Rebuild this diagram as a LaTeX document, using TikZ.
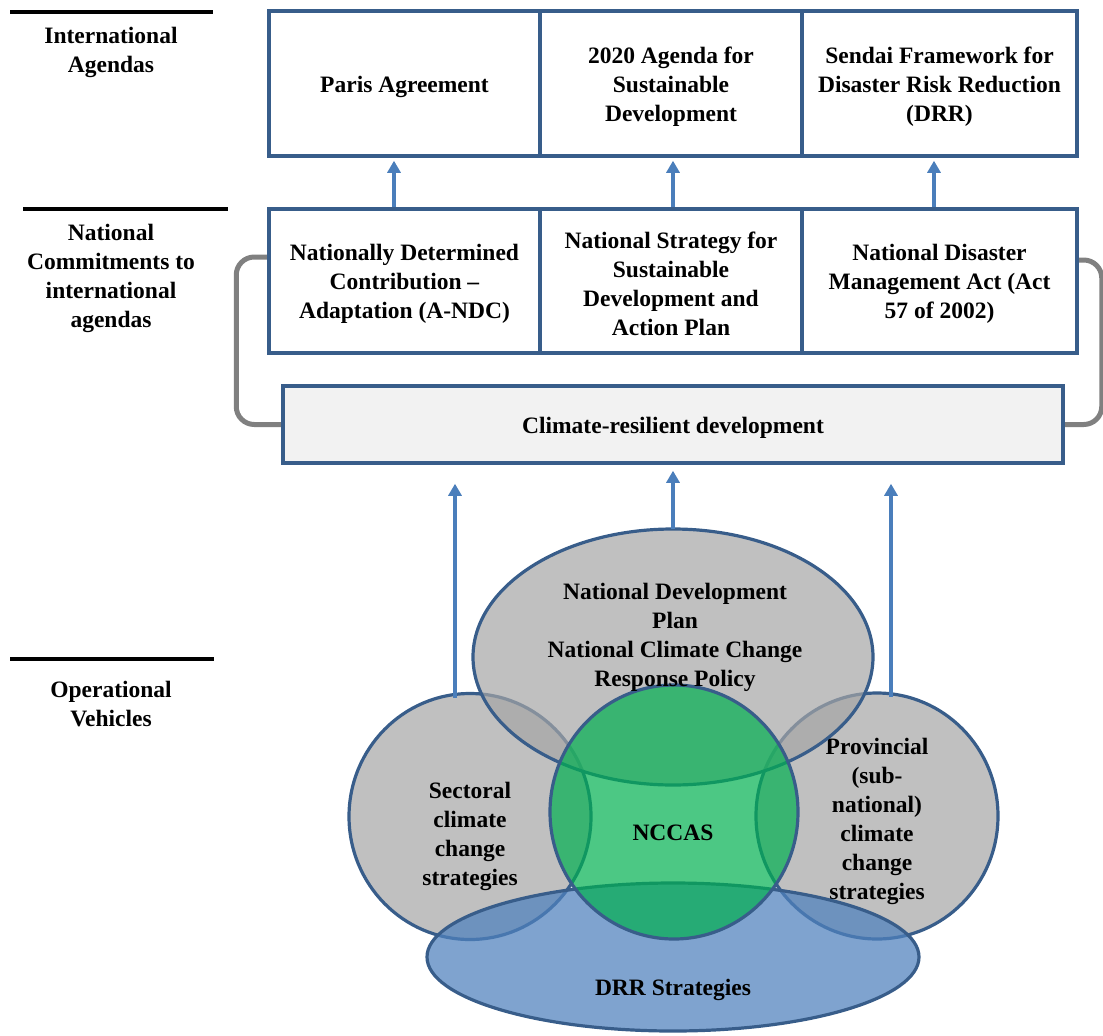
\documentclass[tikz,border=0pt]{standalone}
\usepackage{fontspec}
\setmainfont{Liberation Serif}
\usetikzlibrary{arrows.meta,shapes.geometric,backgrounds}
\definecolor{boxline}{HTML}{385D8A}
\definecolor{arrowblue}{HTML}{4A7EBB}
\definecolor{bracketgray}{HTML}{808080}
\definecolor{lightfill}{HTML}{F2F2F2}
\definecolor{vgray}{HTML}{A5A5A5}
\definecolor{vgreen}{HTML}{00B050}
\definecolor{vblue}{HTML}{4F81BD}

\begin{document}
\begin{tikzpicture}[x=1pt,y=-1pt,
  txt/.style={font=\fontsize{23.5}{29}\selectfont\bfseries, align=center, inner sep=0pt, yshift=-3pt},
  cell/.style={rectangle, draw=boxline, line width=3.5pt, inner sep=0pt, minimum height=145pt},
  up/.style={draw=arrowblue, line width=4pt, -{Triangle[width=13pt,length=12pt]}},
  rule/.style={line width=4pt},
  bracket/.style={draw=bracketgray, line width=5pt, rounded corners=18pt},
  venn/.style={ellipse, draw=boxline, line width=3.2pt, inner sep=0pt, outer sep=0pt},
  grayset/.style={venn, fill=vgray, fill opacity=0.7},
]
\useasboundingbox (0,0) rectangle (1103,1036);

% level rules and level labels
\draw[rule] (10,12) -- (213,12);
\draw[rule] (23,209) -- (228,209);
\draw[rule] (10,659) -- (214,659);
\node[txt] (lab1) at (111,49.5) {International\\Agendas};
\node[txt] (lab2) at (111,275.5) {National\\Commitments to\\international\\agendas};
\node[txt] (lab3) at (111,701.5) {Operational\\Vehicles};

% international agendas
\node[cell, minimum width=271pt] (ia) at (404.5,83.5) {};
\node[cell, minimum width=262pt] (ib) at (671,83.5) {};
\node[cell, minimum width=275pt] (ic) at (939.5,83.5) {};
\node[txt] (iat) at (ia) {Paris Agreement};
\node[txt] (ibt) at (ib) {2020 Agenda for\\Sustainable\\Development};
\node[txt] (ict) at (ic) {Sendai Framework for\\Disaster Risk Reduction\\(DRR)};

% national commitments
\node[cell, minimum width=271pt, minimum height=144pt] (na) at (404.5,281) {};
\node[cell, minimum width=262pt, minimum height=144pt] (nb) at (671,281) {};
\node[cell, minimum width=275pt, minimum height=144pt] (nc) at (939.5,281) {};
\node[txt] (nat) at (na) {Nationally Determined\\Contribution --\\Adaptation (A-NDC)};
\node[txt] (nbt) at (nb) {National Strategy for\\Sustainable\\Development and\\Action Plan};
\node[txt] (nct) at (nc) {National Disaster\\Management Act (Act\\57 of 2002)};

% climate-resilient development
\node[cell, fill=lightfill, minimum width=780pt, minimum height=77pt] (clim) at (673,424.5) {};
\node[txt] (climt) at (clim) {Climate-resilient development};

% side brackets
\begin{scope}[on background layer]
\draw[bracket] ([yshift=24pt]na.west) -| ([xshift=-45pt]clim.west) -- (clim.west);
\draw[bracket] ([yshift=21pt]nc.east) -| ([xshift=37pt]clim.east) -- (clim.east);
\end{scope}

% commitments feed the agendas
\draw[up] ([xshift=-10.5pt]na.north) -- ([xshift=-10.5pt,yshift=-3pt]ia.south);
\draw[up] ([xshift=2pt]nb.north) -- ([xshift=2pt,yshift=-3pt]ib.south);
\draw[up] ([xshift=-5.5pt]nc.north) -- ([xshift=-5.5pt,yshift=-3pt]ic.south);

% operational vehicles
\node[grayset, minimum width=242pt, minimum height=246pt] (sect) at (470,816.5) {};
\node[txt] (sectt) at (470,833.5) {Sectoral\\climate\\change\\strategies};
\node[grayset, minimum width=242pt, minimum height=246pt] (prov) at (877,816) {};
\node[txt] (provt) at (877,818.5) {Provincial\\(sub-\\national)\\climate\\change\\strategies};
\node[grayset, minimum width=400pt, minimum height=256pt] (ndp) at (673,657) {};
\node[venn, fill=vblue, fill opacity=0.73, minimum width=492pt, minimum height=148pt] (drr) at (673,957) {};
\node[txt] (drrt) at (673,987) {DRR Strategies};
\node[venn, fill=vgreen, fill opacity=0.7, minimum width=248pt, minimum height=254pt] (nccas) at (674,812) {};
\node[txt] (ndpt) at (675,634.5) {National Development\\Plan\\National Climate Change\\Response Policy};
\node[txt] (nccast) at (673,830) {NCCAS};

% vehicles feed climate-resilient development
\draw[up] ([xshift=-15pt,yshift=-4pt]sect.north) -- ([xshift=-218pt,yshift=-19pt]clim.south);
\draw[up] (ndp.north) -- ([yshift=-6pt]clim.south);
\draw[up] ([xshift=14pt,yshift=-4pt]prov.north) -- ([xshift=218pt,yshift=-19pt]clim.south);
\end{tikzpicture}
\end{document}
